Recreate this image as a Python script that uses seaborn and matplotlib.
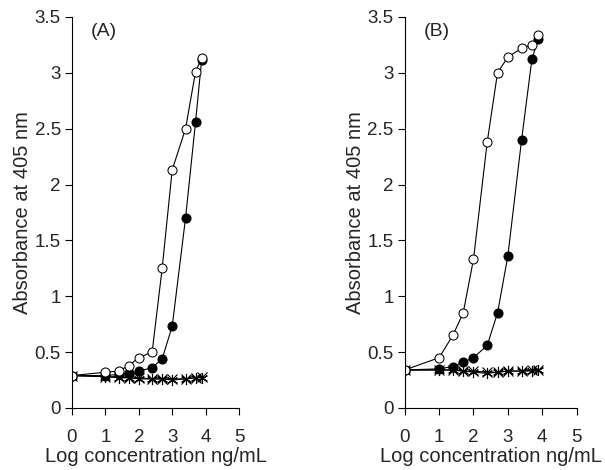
import pandas as pd
import matplotlib
matplotlib.use('Agg')
import matplotlib.pyplot as plt
import seaborn as sns

# Log concentration (ng/mL) of the dilution series
log_conc = [0, 1.0, 1.4, 1.7, 2.0, 2.4, 2.7, 3.0, 3.4, 3.7, 3.88]

# Panel A absorbance at 405 nm
a_open = [0.29, 0.32, 0.33, 0.38, 0.45, 0.50, 1.25, 2.13, 2.50, 3.01, 3.13]
a_filled = [0.29, 0.29, 0.30, 0.31, 0.33, 0.36, 0.44, 0.73, 1.70, 2.56, 3.11]
a_star = [0.29, 0.28, 0.27, 0.27, 0.26, 0.26, 0.26, 0.25, 0.26, 0.27, 0.27]
a_cross = [0.29, 0.28, 0.28, 0.27, 0.27, 0.26, 0.26, 0.26, 0.26, 0.27, 0.28]

# Panel B absorbance at 405 nm
b_open = [0.34, 0.45, 0.65, 0.85, 1.33, 2.38, 3.00, 3.14, 3.22, 3.25, 3.34]
b_filled = [0.34, 0.35, 0.37, 0.41, 0.45, 0.56, 0.85, 1.36, 2.40, 3.12, 3.30]
b_star = [0.34, 0.34, 0.34, 0.33, 0.32, 0.31, 0.32, 0.33, 0.33, 0.33, 0.34]
b_cross = [0.34, 0.34, 0.34, 0.33, 0.33, 0.32, 0.32, 0.33, 0.33, 0.34, 0.34]

sns.set_style('ticks')
plt.rcParams['font.family'] = ['Liberation Sans', 'DejaVu Sans']
plt.rcParams['xtick.direction'] = 'out'
plt.rcParams['ytick.direction'] = 'out'

fig = plt.figure(figsize=(6.05, 4.70), dpi=100)
ax_a = fig.add_axes([0.119, 0.132, 0.276, 0.832])
ax_b = fig.add_axes([0.669, 0.132, 0.284, 0.832])

asterisk = (6, 2, 0)
styles = {
    'open': dict(marker='o', markerfacecolor='white', markeredgecolor='black', markersize=6.5),
    'filled': dict(marker='o', markerfacecolor='black', markeredgecolor='black', markersize=6.5),
    'star': dict(marker=asterisk, markeredgecolor='black', markersize=8, markeredgewidth=0.8),
    'cross': dict(marker='x', markeredgecolor='black', markersize=7, markeredgewidth=0.8),
}

panels = [
    (ax_a, '(A)', {'open': a_open, 'filled': a_filled, 'star': a_star, 'cross': a_cross}),
    (ax_b, '(B)', {'open': b_open, 'filled': b_filled, 'star': b_star, 'cross': b_cross}),
]

for ax, label, series in panels:
    for name in ['star', 'cross', 'filled', 'open']:
        df = pd.DataFrame({'x': log_conc, 'y': series[name]})
        sns.lineplot(data=df, x='x', y='y', ax=ax, color='black', linewidth=0.8,
                     estimator=None, sort=False, **styles[name])
    ax.set_xlim(0, 5)
    ax.set_ylim(0, 3.5)
    ax.set_xticks([0, 1, 2, 3, 4, 5])
    ax.set_yticks([0, 0.5, 1, 1.5, 2, 2.5, 3, 3.5])
    ax.set_yticklabels(['0', '0.5', '1', '1.5', '2', '2.5', '3', '3.5'])
    ax.tick_params(labelsize=13.5, length=5, width=0.8, color='black')
    ax.tick_params(axis='x', pad=10)
    ax.tick_params(axis='y', pad=3)
    ax.set_xlabel('Log concentration ng/mL', fontsize=14.5, labelpad=1)
    ax.set_ylabel('Absorbance at 405 nm', fontsize=14.5, labelpad=2)
    ax.text(0.55, 3.37, label, fontsize=14, ha='left', va='center')
    for s in ['left', 'bottom']:
        ax.spines[s].set_linewidth(0.8)
        ax.spines[s].set_color('black')
    sns.despine(ax=ax)

fig.savefig('out.png', dpi=100)
